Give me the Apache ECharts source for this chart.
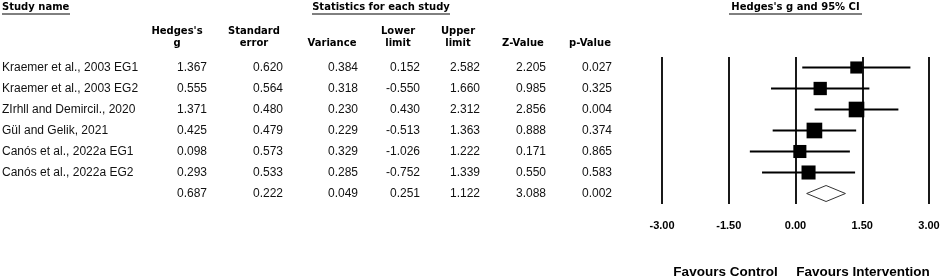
<!DOCTYPE html>
<html>
<head>
<meta charset="utf-8">
<script src="https://cdn.jsdelivr.net/npm/echarts@6/dist/echarts.min.js"></script>
<style>
  html, body { margin: 0; padding: 0; background: #fff; }
  #main { width: 941px; height: 280px; }
</style>
</head>
<body>
<div id="main"></div>
<script>
// study table
var studyNames = ['Kraemer et al., 2003 EG1', 'Kraemer et al., 2003 EG2', 'ZIrhll and Demircil., 2020',
    'Gül and Gelik, 2021', 'Canós et al., 2022a EG1', 'Canós et al., 2022a EG2', ''];
var hedgesG   = [1.367, 0.555, 1.371, 0.425, 0.098, 0.293, 0.687];
var stdError  = [0.620, 0.564, 0.480, 0.479, 0.573, 0.533, 0.222];
var variance  = [0.384, 0.318, 0.230, 0.229, 0.329, 0.285, 0.049];
var lowerLim  = [0.152, -0.550, 0.430, -0.513, -1.026, -0.752, 0.251];
var upperLim  = [2.582, 1.660, 2.312, 1.363, 1.222, 1.339, 1.122];
var zValue    = [2.205, 0.985, 2.856, 0.888, 0.171, 0.550, 3.088];
var pValue    = [0.027, 0.325, 0.004, 0.374, 0.865, 0.583, 0.002];
var axisMin = -3, axisMax = 3, axisStep = 1.5;

var rowIdx = studyNames.map(function (s, i) { return String(i); });
var gridLeft = 662;

function fmt(arr) { return arr.map(function (v) { return v.toFixed(3); }); }

// one hidden-line y axis per table column; its labels sit at the column's right edge
function colAxis(data, rightEdge) {
    return {
        type: 'category', inverse: true, data: data, position: 'left',
        offset: gridLeft - rightEdge,
        axisLine: {show: false}, axisTick: {show: false}, splitLine: {show: false},
        axisLabel: {interval: 0, margin: 0, color: '#111', fontFamily: 'Liberation Sans', fontSize: 12}
    };
}

var yAxes = [
    {
        type: 'category', inverse: true, data: rowIdx,
        axisLine: {show: false}, axisTick: {show: false}, axisLabel: {show: false}, splitLine: {show: false}
    },
    colAxis(fmt(hedgesG), 207),
    colAxis(fmt(stdError), 283),
    colAxis(fmt(variance), 358),
    colAxis(fmt(lowerLim), 420),
    colAxis(fmt(upperLim), 480),
    colAxis(fmt(zValue), 546),
    colAxis(fmt(pValue), 612)
];
var nameAxis = colAxis(studyNames, 2);
nameAxis.axisLabel.align = 'left';
yAxes.push(nameAxis);

var studyData = [];
for (var i = 0; i < 6; i++) {
    studyData.push([hedgesG[i], i, lowerLim[i], upperLim[i], variance[i]]);
}
var summaryData = [[hedgesG[6], 6, lowerLim[6], upperLim[6]]];

var hdrFont = 'bold 10px "DejaVu Sans"';
function hdr(text, x, y, align) {
    return {type: 'text', x: x, y: y, style: {text: text, font: hdrFont, fill: '#000',
        align: align || 'center', verticalAlign: 'middle', lineHeight: 11.5}};
}
function uline(x1, x2, y) {
    return {type: 'line', shape: {x1: x1, y1: y, x2: x2, y2: y}, style: {stroke: '#000', lineWidth: 1}};
}

var myChart = echarts.init(document.getElementById('main'));
var option = {
    backgroundColor: '#fff',
    animation: false,
    grid: {left: gridLeft, right: 12, top: 57, bottom: 76, outerBoundsMode: 'none', containLabel: false},
    xAxis: {
        type: 'value', min: axisMin, max: axisMax, interval: axisStep,
        axisLine: {show: false}, axisTick: {show: false},
        splitLine: {show: true, lineStyle: {color: '#000', width: 1.8}},
        axisLabel: {
            margin: 16, color: '#000', fontFamily: 'Liberation Sans', fontWeight: 'bold', fontSize: 11,
            formatter: function (v) { return v.toFixed(2); }
        }
    },
    yAxis: yAxes,
    series: [
        {
            type: 'custom', yAxisIndex: 0, data: studyData,
            encode: {x: 0, y: 1},
            renderItem: function (params, api) {
                var c = api.coord([api.value(0), api.value(1)]);
                var lo = api.coord([api.value(2), api.value(1)]);
                var hi = api.coord([api.value(3), api.value(1)]);
                var s = 7.5 * Math.sqrt(1 / api.value(4));
                return {
                    type: 'group', children: [
                        {type: 'line', shape: {x1: lo[0], y1: lo[1], x2: hi[0], y2: hi[1]},
                            style: {stroke: '#000', lineWidth: 2}},
                        {type: 'rect', shape: {x: c[0] - s / 2, y: c[1] - s / 2, width: s, height: s},
                            style: {fill: '#000'}}
                    ]
                };
            }
        },
        {
            type: 'custom', yAxisIndex: 0, data: summaryData,
            encode: {x: 0, y: 1},
            renderItem: function (params, api) {
                var c = api.coord([api.value(0), api.value(1)]);
                var lo = api.coord([api.value(2), api.value(1)]);
                var hi = api.coord([api.value(3), api.value(1)]);
                var h = 8;
                return {
                    type: 'polygon',
                    shape: {points: [[lo[0], c[1]], [c[0], c[1] - h], [hi[0], c[1]], [c[0], c[1] + h]]},
                    style: {fill: '#fff', stroke: '#333', lineWidth: 1}
                };
            }
        }
    ],
    graphic: [
        hdr('Study name', 2, 7, 'left'), uline(2, 70, 14),
        hdr('Statistics for each study', 381, 7), uline(312, 450, 14),
        hdr("Hedges's g and 95% CI", 795.5, 7), uline(729, 862, 14),
        hdr("Hedges's\ng", 177, 37.5),
        hdr('Standard\nerror', 254, 37.5),
        hdr('Variance', 332, 43),
        hdr('Lower\nlimit', 398, 37.5),
        hdr('Upper\nlimit', 458, 37.5),
        hdr('Z-Value', 523, 43),
        hdr('p-Value', 590, 43),
        {type: 'text', x: 725.5, y: 272, style: {text: 'Favours Control', font: 'bold 13.5px "Liberation Sans"',
            fill: '#000', align: 'center', verticalAlign: 'middle'}},
        {type: 'text', x: 863, y: 272, style: {text: 'Favours Intervention', font: 'bold 13.5px "Liberation Sans"',
            fill: '#000', align: 'center', verticalAlign: 'middle'}}
    ]
};
myChart.setOption(option);
</script>
</body>
</html>
